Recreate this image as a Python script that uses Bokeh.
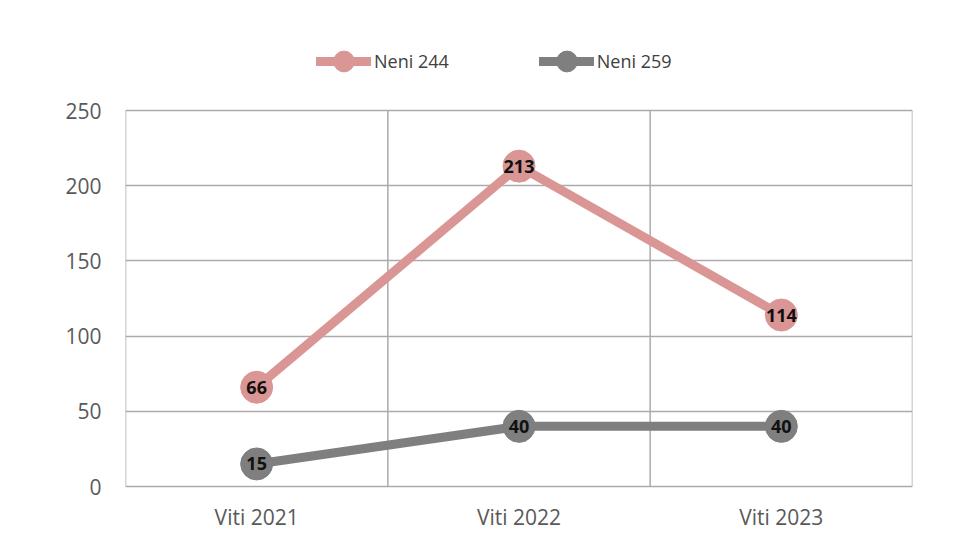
from bokeh.plotting import figure
from bokeh.models import Range1d, FixedTicker, Legend, LegendItem, ColumnDataSource
from bokeh.core.properties import value
from bokeh.embed import file_html
from bokeh.resources import INLINE

categories = ["Viti 2021", "Viti 2022", "Viti 2023"]
series_names = ["Neni 244", "Neni 259"]
neni_244 = [66, 213, 114]
neni_259 = [15, 40, 40]
y_ticks = [0, 50, 100, 150, 200, 250]

colors = ["#D99694", "#7F7F7F"]
FONT = "Open Sans"
GRID = "#ABABAB"

xs = [i + 0.5 for i in range(len(categories))]
y_axis_max = y_ticks[-1]
# frame extends above the value axis to hold the legend (in-frame), and 2px below zero
axis_h = 376
frame_h = 448
per_px = y_axis_max / axis_h
y_bottom = -2 * per_px
y_top = y_bottom + frame_h * per_px

p = figure(frame_width=787, frame_height=frame_h, output_backend="svg", toolbar_location=None,
           x_range=Range1d(0, len(categories)), y_range=Range1d(y_bottom, y_top))
p.min_border_left = 125
p.min_border_right = 43
p.min_border_top = 40
p.min_border_bottom = 42
p.outline_line_color = None

p.xgrid.visible = False
p.ygrid.ticker = FixedTicker(ticks=y_ticks)
p.ygrid.grid_line_color = GRID
p.ygrid.grid_line_width = 1.5

bounds = list(range(len(categories) + 1))
p.segment(x0=bounds, y0=[0] * len(bounds), x1=bounds, y1=[y_axis_max] * len(bounds),
          line_color=GRID, line_width=1.5)

p.xaxis.ticker = FixedTicker(ticks=xs)
p.xaxis.major_label_overrides = {x: c for x, c in zip(xs, categories)}
p.yaxis.ticker = FixedTicker(ticks=y_ticks)
for ax in (p.xaxis[0], p.yaxis[0]):
    ax.axis_line_color = None
    ax.major_tick_line_color = None
    ax.minor_tick_line_color = None
    ax.major_label_text_font = FONT
    ax.major_label_text_font_size = "21px"
    ax.major_label_text_color = "#595959"
p.yaxis.major_label_standoff = 18
p.xaxis.major_label_standoff = 8

items = []
for name, vals, col in zip(series_names, [neni_244, neni_259], colors):
    src = ColumnDataSource(dict(x=xs, y=vals, t=[str(v) for v in vals]))
    l = p.line("x", "y", source=src, line_color=col, line_width=9, line_cap="round")
    c = p.scatter("x", "y", source=src, size=32, fill_color=col, line_color=col)
    p.text("x", "y", text="t", source=src, text_align="center", text_baseline="middle",
           text_font=value(FONT), text_font_style="bold", text_font_size="18px",
           text_color="#111111")
    items.append(LegendItem(label=name, renderers=[l, c]))

legend = Legend(items=items, orientation="horizontal", location=(191, 401),
                glyph_width=55, glyph_height=52, label_text_font=FONT,
                label_text_font_size="18px", label_text_color="#404040",
                spacing=90, padding=0, margin=0, border_line_color=None,
                background_fill_alpha=0, label_standoff=3)
p.add_layout(legend, "center")

open("out.html", "w").write(file_html(p, INLINE))
